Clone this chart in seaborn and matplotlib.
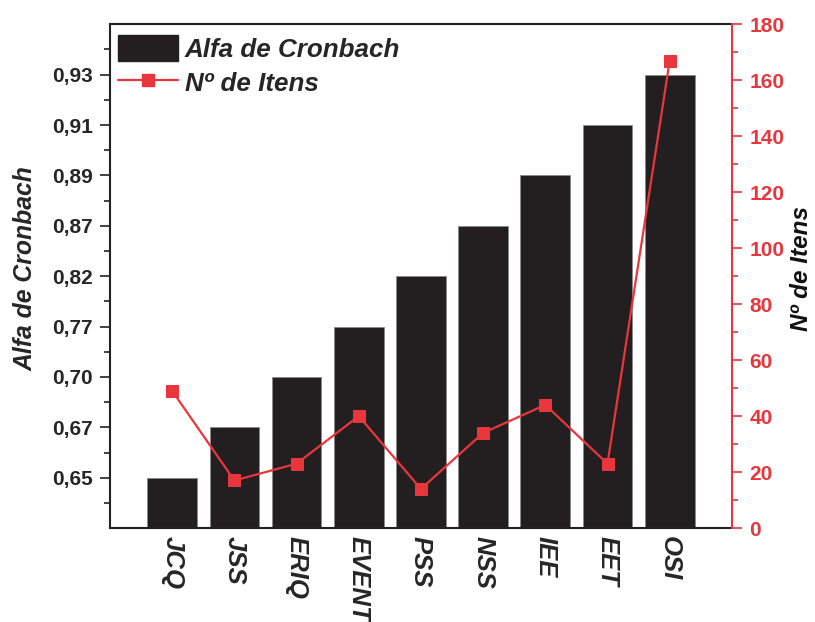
import matplotlib
matplotlib.use("Agg")
import matplotlib.pyplot as plt
import seaborn as sns
import numpy as np
import pandas as pd
from matplotlib.patches import Patch
from matplotlib.lines import Line2D

# ---- data ----
instrumentos = ["JCQ", "JSS", "ERIQ", "EVENT", "PSS", "NSS", "IEE", "EET", "OSI"]
alfa = [0.65, 0.67, 0.70, 0.77, 0.82, 0.87, 0.89, 0.91, 0.93]
itens = [49, 17, 23, 40, 14, 34, 44, 23, 167]
alfa_tick_labels = ["0,65", "0,67", "0,70", "0,77", "0,82", "0,87", "0,89", "0,91", "0,93"]
itens_ticks = [0, 20, 40, 60, 80, 100, 120, 140, 160, 180]

BAR = "#231f20"
RED = "#e8363c"

sns.set_theme(style="ticks")
plt.rcParams['font.family'] = ['Liberation Sans', 'DejaVu Sans']
plt.rcParams['font.weight'] = 'bold'

# the left axis is ordinal: each alpha value occupies one evenly spaced level
ordem = sorted(alfa)
nivel = [ordem.index(a) + 1 for a in alfa]
df = pd.DataFrame({"inst": instrumentos, "nivel": nivel, "itens": itens})

fig = plt.figure(figsize=(8.15, 6.22), dpi=100)
ax = fig.add_axes([0.135, 0.151, 0.763, 0.810])

sns.barplot(data=df, x="inst", y="nivel", color=BAR, saturation=1, width=0.8,
            edgecolor="#8a8a8a", linewidth=0.6, ax=ax)
ax.set_xlim(-1, 9)
ax.set_ylim(0, 10)
ax.set_yticks(range(1, 10))
ax.set_yticklabels(alfa_tick_labels)
ax.set_yticks(np.arange(0.5, 10, 1.0), minor=True)
ax.tick_params(axis='y', which='major', direction='out', length=7.5, width=1.2,
               labelsize=15, color="#222222", pad=5)
ax.tick_params(axis='y', which='minor', direction='out', length=4.5, width=1.2,
               color="#222222")
ax.tick_params(axis='x', length=0, labelsize=18.5, pad=6)
for lbl in ax.get_xticklabels():
    lbl.set_rotation(270)
    lbl.set_fontstyle('italic')
    lbl.set_fontweight('bold')
    lbl.set_va('top')
    lbl.set_ha('center')
for lbl in ax.get_yticklabels():
    lbl.set_fontweight('bold')
ax.set_xlabel("")
ax.set_ylabel("Alfa de Cronbach", fontsize=17.8, fontstyle='italic',
              fontweight='bold')
ax.yaxis.set_label_coords(-0.117, 0.516)
for s in ["left", "top", "bottom"]:
    ax.spines[s].set_color("#222222")
    ax.spines[s].set_linewidth(1.5)
ax.spines["right"].set_visible(False)

ax2 = ax.twinx()
sns.lineplot(x=np.arange(len(itens)), y=itens, sort=False, color=RED,
             linewidth=1.6, marker="s", markersize=8, markeredgecolor=RED,
             markerfacecolor=RED, ax=ax2)
ax2.set_ylim(0, 180)
ax2.set_yticks(itens_ticks)
ax2.set_yticks(np.arange(10, 180, 20), minor=True)
ax2.tick_params(axis='y', which='major', direction='out', length=7.5, width=1.2,
                colors=RED, labelsize=15, pad=5)
ax2.tick_params(axis='y', which='minor', direction='out', length=4.5, width=1.2,
                colors=RED)
for lbl in ax2.get_yticklabels():
    lbl.set_fontweight('bold')
ax2.set_ylabel("Nº de Itens", fontsize=17.5, fontstyle='italic',
               fontweight='bold', color="#111111")
ax2.yaxis.set_label_coords(1.093, 0.516)
ax2.spines["right"].set_color(RED)
ax2.spines["right"].set_linewidth(1.5)
for s in ["left", "top", "bottom"]:
    ax2.spines[s].set_visible(False)

handles = [Patch(facecolor=BAR, edgecolor=BAR),
           Line2D([], [], color=RED, linewidth=1.6, marker="s", markersize=8)]
leg = ax2.legend(handles, ["Alfa de Cronbach", "Nº de Itens"], loc="upper left",
                 bbox_to_anchor=(0.0, 0.995), frameon=False, handlelength=2.3,
                 handleheight=1.13, handletextpad=0.25, labelspacing=0.3,
                 borderaxespad=0.2, borderpad=0.12,
                 prop={'size': 18.7, 'style': 'italic', 'weight': 'bold'})

fig.savefig("out.png", dpi=100)
